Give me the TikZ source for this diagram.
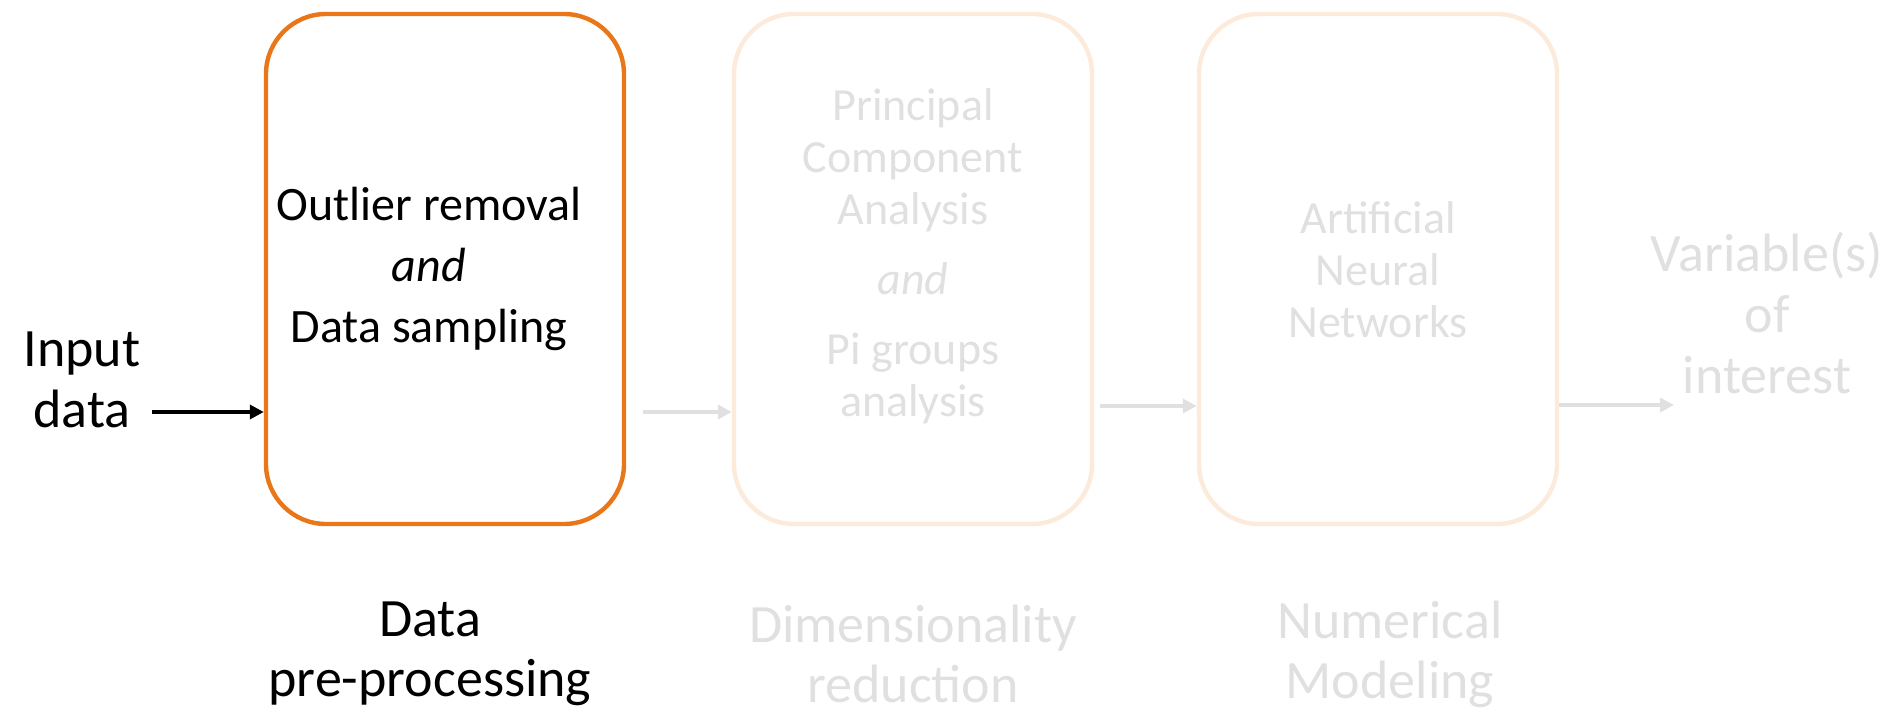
\documentclass[tikz,border=0pt]{standalone}
\usepackage{fontspec}
\setmainfont{Carlito}
\usetikzlibrary{arrows.meta}
\definecolor{accent}{RGB}{233,118,25}
\definecolor{fadeorange}{RGB}{252,234,218}
\definecolor{fadegray}{RGB}{224,224,224}
\tikzset{
  stagebox/.style={draw, line width=2.2pt, rounded corners=30pt, minimum width=179pt, minimum height=255pt, inner sep=0pt},
  activebox/.style={stagebox, draw=accent},
  fadedbox/.style={stagebox, draw=fadeorange},
  flow/.style={line width=2pt, -{Triangle[length=7pt,width=7pt]}},
  boxtext/.style={align=center, font=\fontsize{23}{26}\selectfont, inner sep=0pt},
  firsttext/.style={align=center, font=\fontsize{24}{30.5}\selectfont, inner sep=0pt},
  label/.style={align=center, font=\fontsize{27}{30}\selectfont, inner sep=0pt},
  endtext/.style={align=center, font=\fontsize{27}{30.5}\selectfont, inner sep=0pt}
}
\begin{document}
\begin{tikzpicture}[x=0.5pt,y=-0.5pt]
\useasboundingbox (0,0) rectangle (1899,711);
% boxes
\node[activebox] (b1) at (445,269) {};
\node[fadedbox] (b2) at (913,269) {};
\node[fadedbox] (b3) at (1378,269) {};
% box texts
\node[firsttext] (t1) at (429,269) {Outlier removal\\\textit{and}\\Data sampling};
\node[boxtext, text=fadegray] (t2) at (913,256) {Principal\\Component\\Analysis\\[9pt]\textit{and}\\[9pt]Pi groups\\analysis};
\node[boxtext, text=fadegray] (t3) at (1378,270) {Artificial\\Neural\\Networks};
% input / output
\node[endtext] (in) at (82,380) {Input\\data};
\node[endtext, text=fadegray] (out) at (1767,313) {Variable(s)\\of\\interest};
% stage labels
\node[label] (l1) at (430,654) {Data\\pre-processing};
\node[label, text=fadegray] (l2) at (913,654) {Dimensionality\\reduction};
\node[label, text=fadegray] (l3) at (1390,654) {Numerical\\Modeling};
% connectors
\coordinate (a1) at (152,412);
\draw[flow, black] (a1) -- (a1 -| b1.west);
\coordinate (a2) at (643,412);
\draw[flow, fadegray] (a2) -- (a2 -| b2.west);
\coordinate (a3) at (1100,406);
\draw[flow, fadegray] (a3) -- (a3 -| b3.west);
\coordinate (a4) at (1674,405);
\draw[flow, fadegray] (b3.east |- a4) -- (a4);
\end{tikzpicture}
\end{document}
